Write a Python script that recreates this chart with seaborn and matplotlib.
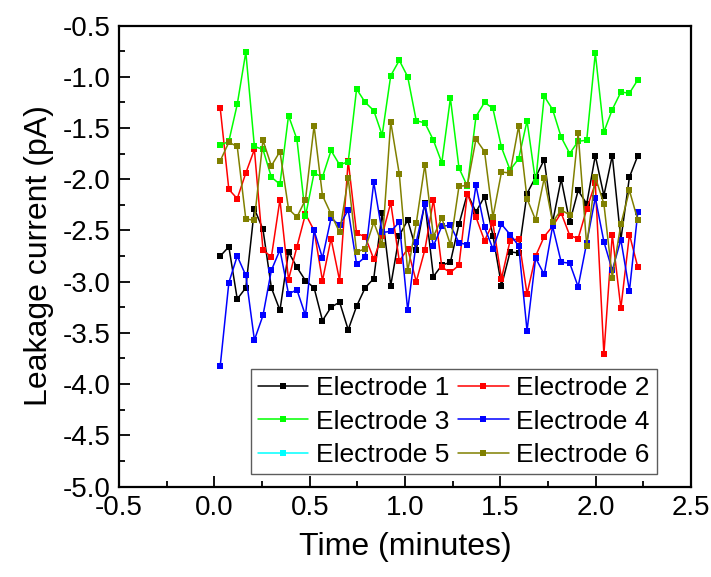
import seaborn as sns
import pandas as pd
import matplotlib
matplotlib.use("Agg")
import matplotlib.pyplot as plt
from matplotlib.lines import Line2D
from matplotlib.ticker import MultipleLocator

# Time axis (minutes), one reading every ~2.7 s
time_min = [0.031, 0.076, 0.120, 0.165, 0.210, 0.255, 0.299, 0.344, 0.389, 0.433,
            0.478, 0.523, 0.567, 0.612, 0.657, 0.702, 0.746, 0.791, 0.836, 0.880,
            0.925, 0.970, 1.014, 1.059, 1.104, 1.149, 1.193, 1.238, 1.283, 1.327,
            1.372, 1.417, 1.461, 1.506, 1.551, 1.596, 1.640, 1.685, 1.730, 1.774,
            1.819, 1.864, 1.908, 1.953, 1.998, 2.043, 2.087, 2.132, 2.177, 2.221]

# Leakage current (pA) per electrode
electrode_1 = [-2.75, -2.66, -3.17, -3.06, -2.29, -2.49, -3.06, -3.28, -2.71, -2.86,
               -2.99, -3.06, -3.38, -3.25, -3.20, -3.47, -3.24, -3.06, -2.97, -2.33,
               -3.04, -2.55, -2.40, -2.69, -2.23, -2.95, -2.84, -2.81, -2.44, -2.14,
               -2.32, -2.17, -2.55, -3.04, -2.71, -2.72, -2.14, -1.98, -1.81, -2.42,
               -2.00, -2.42, -2.11, -2.24, -1.77, -2.16, -1.77, -2.59, -1.98, -1.77]
electrode_2 = [-1.31, -2.10, -2.19, -1.94, -1.71, -2.69, -2.76, -2.20, -2.98, -2.66,
               -2.34, -2.50, -2.99, -2.58, -2.99, -1.82, -2.53, -2.56, -2.78, -2.55,
               -2.23, -2.80, -2.68, -3.00, -2.69, -2.20, -2.86, -2.91, -2.84, -2.14,
               -2.37, -2.60, -2.43, -2.97, -2.60, -2.58, -3.12, -2.75, -2.56, -2.46,
               -2.33, -2.55, -2.58, -2.29, -2.04, -3.71, -2.54, -3.26, -2.54, -2.86]
electrode_3 = [-1.67, -1.63, -1.27, -0.76, -1.68, -1.71, -1.98, -2.05, -1.38, -1.61,
               -2.36, -1.94, -1.98, -1.72, -1.86, -1.83, -1.12, -1.25, -1.33, -1.57,
               -0.99, -0.84, -1.00, -1.43, -1.45, -1.62, -1.84, -1.21, -1.89, -2.07,
               -1.39, -1.25, -1.31, -1.69, -1.91, -1.80, -1.43, -2.03, -1.19, -1.32,
               -1.59, -1.75, -1.63, -1.62, -0.77, -1.54, -1.32, -1.15, -1.16, -1.03]
electrode_4 = [-3.82, -3.01, -2.75, -2.94, -3.57, -3.33, -2.89, -2.69, -3.12, -3.08,
               -3.33, -2.50, -2.77, -2.38, -2.45, -2.30, -2.83, -2.76, -2.03, -2.52,
               -2.51, -2.42, -3.28, -2.61, -2.24, -2.65, -2.46, -2.45, -2.62, -2.64,
               -2.06, -2.47, -2.68, -2.44, -2.54, -2.65, -3.48, -2.77, -2.93, -2.46,
               -2.81, -2.82, -3.05, -2.62, -2.18, -2.61, -2.89, -2.59, -3.09, -2.32]
electrode_5 = []  # listed in the legend, no visible points
electrode_6 = [-1.82, -1.64, -1.68, -2.39, -2.40, -1.62, -1.87, -1.73, -2.29, -2.37,
               -2.20, -1.48, -2.16, -2.34, -2.52, -1.99, -2.71, -2.68, -2.42, -2.64,
               -1.44, -1.95, -2.90, -2.43, -1.86, -2.56, -2.38, -2.64, -2.07, -2.06,
               -1.61, -1.73, -2.37, -1.93, -1.94, -1.48, -2.19, -2.40, -1.99, -2.42,
               -2.30, -2.35, -1.55, -2.65, -1.98, -2.24, -2.96, -2.44, -2.11, -2.40]

labels = ["Electrode 1", "Electrode 2", "Electrode 3",
          "Electrode 4", "Electrode 5", "Electrode 6"]
series = [electrode_1, electrode_2, electrode_3, electrode_4, electrode_5, electrode_6]
colors = ["#000000", "#FF0000", "#00FF00", "#0000FF", "#00FFFF", "#808000"]

sns.set_style("ticks")
plt.rcParams['font.family'] = ['Liberation Sans', 'DejaVu Sans']
plt.rcParams['axes.unicode_minus'] = False
plt.rcParams['text.color'] = 'black'
plt.rcParams['axes.labelcolor'] = 'black'
plt.rcParams['xtick.color'] = 'black'
plt.rcParams['ytick.color'] = 'black'

fig = plt.figure(figsize=(7.11, 5.77), dpi=100)
ax = fig.add_axes([0.1674, 0.1568, 0.8045, 0.799])

handles = {}
for lab, vals, col in zip(labels, series, colors):
    if len(vals) > 0:
        df = pd.DataFrame({"Time": time_min, "Current": vals})
        sns.lineplot(data=df, x="Time", y="Current", ax=ax, color=col,
                     marker="s", markersize=4, markeredgewidth=0,
                     linewidth=1.1, sort=False, estimator=None)
    handles[lab] = Line2D([], [], color=col, marker="s", markersize=4,
                          markeredgewidth=0, linewidth=1.1)

ax.set_xlim(-0.5, 2.5)
ax.set_ylim(-5.0, -0.5)
ax.xaxis.set_major_locator(MultipleLocator(0.5))
ax.xaxis.set_minor_locator(MultipleLocator(0.25))
ax.yaxis.set_major_locator(MultipleLocator(0.5))
ax.yaxis.set_minor_locator(MultipleLocator(0.25))
ax.tick_params(which="both", direction="in", top=False, right=False,
               labelsize=20, width=1.3, pad=6)
ax.tick_params(which="major", length=8)
ax.tick_params(which="minor", length=4)
for sp in ax.spines.values():
    sp.set_linewidth(1.6)
    sp.set_color("black")

ax.set_xlabel("Time (minutes)", fontsize=23, labelpad=8)
ax.set_ylabel("Leakage current (pA)", fontsize=23, labelpad=6)

order = ["Electrode 1", "Electrode 3", "Electrode 5",
         "Electrode 2", "Electrode 4", "Electrode 6"]
leg = ax.legend([handles[k] for k in order], order, ncol=2,
                loc="lower left", bbox_to_anchor=(0.231, 0.027),
                borderaxespad=0, fontsize=19, frameon=True, fancybox=False,
                handlelength=1.9, handletextpad=0.3, columnspacing=0.35,
                labelspacing=0.37, borderpad=0.25)
leg.get_frame().set_edgecolor("#333333")
leg.get_frame().set_linewidth(1.0)

fig.savefig("out.png", dpi=100)
